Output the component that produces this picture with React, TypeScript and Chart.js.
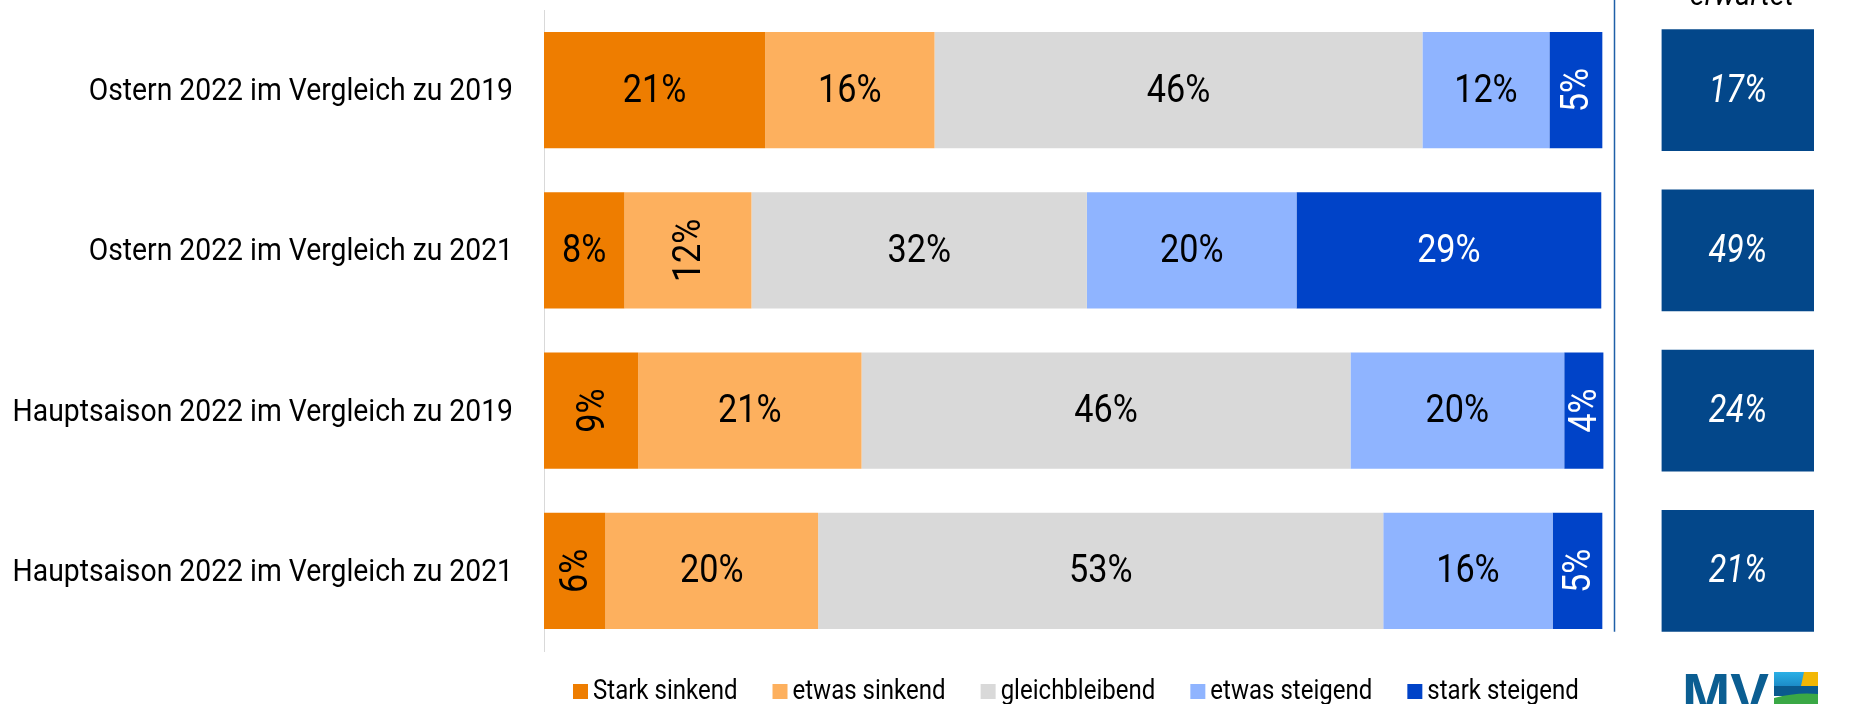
import React, { useEffect, useRef } from 'react';
import { Chart, registerables } from 'chart.js';

Chart.register(...registerables);

// ---- data ----
const categories = [
  'Ostern 2022 im Vergleich zu 2019',
  'Ostern 2022 im Vergleich zu 2021',
  'Hauptsaison 2022 im Vergleich zu 2019',
  'Hauptsaison 2022 im Vergleich zu 2021',
];
const seriesNames = ['Stark sinkend', 'etwas sinkend', 'gleichbleibend', 'etwas steigend', 'stark steigend'];
const starkSinkend = [20.9, 7.6, 8.9, 5.8];
const etwasSinkend = [16.0, 12.0, 21.1, 20.1];
const gleichbleibend = [46.1, 31.7, 46.2, 53.4];
const etwasSteigend = [12.0, 19.8, 20.2, 16.0];
const starkSteigend = [5.0, 28.8, 3.7, 4.7];
const erwartet = [17, 49, 24, 21];
const erwartetTitle = 'erwartet';

// ---- style ----
const seriesColors = ['#EE7D00', '#FDB05E', '#D9D9D9', '#8FB4FF', '#0043C8'];
const labelColors = ['#000000', '#000000', '#000000', '#000000', '#FFFFFF'];
// which value labels are written vertically (per series, per category)
const rotatedLabels = [
  [false, false, true, true],
  [false, true, false, false],
  [false, false, false, false],
  [false, false, false, false],
  [true, false, true, true],
];
const boxColor = '#03478A';
const dividerColor = '#1F5FA8';
const xMax = 120;
const boxRange: [number, number] = [105.6, 120];
const dividerValue = 101.1;
const baseFont = 'Roboto, "Liberation Sans", sans-serif';
const condense = 0.9; // emulate a condensed face by horizontal scaling

function condensedText(ctx: CanvasRenderingContext2D, txt: string, x: number, y: number, sx = condense) {
  ctx.save();
  ctx.translate(x, y);
  ctx.scale(sx, 1);
  ctx.fillText(txt, 0, 0);
  ctx.restore();
}

const labelsPlugin = {
  id: 'valueLabels',
  afterDatasetsDraw(chart: any) {
    const ctx = chart.ctx;
    ctx.save();
    ctx.textAlign = 'center';
    ctx.textBaseline = 'middle';
    for (let d = 0; d < 5; d++) {
      const meta = chart.getDatasetMeta(d);
      const vals = chart.data.datasets[d].data as number[];
      meta.data.forEach((el: any, i: number) => {
        const p = el.getProps(['x', 'y', 'base'], true);
        const cx = (p.x + p.base) / 2;
        const txt = Math.round(vals[i]) + '%';
        ctx.fillStyle = labelColors[d];
        ctx.font = `38px ${baseFont}`;
        if (rotatedLabels[d][i]) {
          ctx.save();
          ctx.translate(cx + 1, p.y);
          ctx.rotate(-Math.PI / 2);
          condensedText(ctx, txt, 0, 2);
          ctx.restore();
        } else {
          condensedText(ctx, txt, cx, p.y + 2);
        }
      });
    }
    // expected boxes
    const bmeta = chart.getDatasetMeta(5);
    ctx.fillStyle = '#FFFFFF';
    ctx.font = `italic 38px ${baseFont}`;
    bmeta.data.forEach((el: any, i: number) => {
      const p = el.getProps(['x', 'y', 'base'], true);
      condensedText(ctx, erwartet[i] + '%', (p.x + p.base) / 2, p.y + 2, 0.85);
    });
    ctx.restore();
  },
};

const decorPlugin = {
  id: 'decor',
  afterDraw(chart: any) {
    const ctx = chart.ctx;
    const xs = chart.scales.x;
    const ys = chart.scales.y;
    const bmeta = chart.getDatasetMeta(5);
    const last = bmeta.data[bmeta.data.length - 1].getProps(['x', 'y', 'base', 'height'], true);
    const first = bmeta.data[0].getProps(['x', 'base'], true);
    ctx.save();

    // category labels
    ctx.fillStyle = '#000';
    ctx.font = `32px ${baseFont}`;
    ctx.textAlign = 'right';
    ctx.textBaseline = 'middle';
    categories.forEach((c, i) => {
      condensedText(ctx, c, chart.chartArea.left - 31, ys.getPixelForValue(i) + 2, 0.885);
    });

    // divider line
    const dx = Math.round(xs.getPixelForValue(dividerValue)) + 0.5;
    ctx.strokeStyle = dividerColor;
    ctx.lineWidth = 1.5;
    ctx.beginPath();
    ctx.moveTo(dx, 0);
    ctx.lineTo(dx, last.y + last.height / 2);
    ctx.stroke();

    // column title (cut at top)
    ctx.fillStyle = '#000';
    ctx.font = `italic 32px ${baseFont}`;
    ctx.textAlign = 'center';
    ctx.textBaseline = 'alphabetic';
    condensedText(ctx, erwartetTitle, (first.x + first.base) / 2 + 4, 5, 0.9);

    // legend
    ctx.font = `27px ${baseFont}`;
    ctx.textAlign = 'left';
    ctx.textBaseline = 'middle';
    const lsx = 0.89;
    let x = chart.chartArea.left + 29;
    const yc = 691.5;
    for (let i = 0; i < 5; i++) {
      ctx.fillStyle = seriesColors[i];
      ctx.fillRect(x, yc - 7.5, 15, 15);
      ctx.fillStyle = '#000';
      condensedText(ctx, seriesNames[i], x + 20, yc + 1, lsx);
      x += 20 + ctx.measureText(seriesNames[i]).width * lsx + 35;
    }

    // logo (partially cut)
    ctx.fillStyle = '#0B5E92';
    ctx.font = 'bold 58px "Liberation Sans", Arial, sans-serif';
    ctx.textAlign = 'left';
    ctx.textBaseline = 'alphabetic';
    ctx.fillText('MV', 1682, 714);
    const lx = 1774, ly = 672, lw = 44;
    const g = ctx.createLinearGradient(0, ly, 0, ly + 14);
    g.addColorStop(0, '#2AB0E6');
    g.addColorStop(1, '#1C8CC8');
    ctx.fillStyle = g;
    ctx.fillRect(lx, ly, lw, 14);
    ctx.fillStyle = '#F2B705';
    ctx.beginPath();
    ctx.moveTo(lx + 30, ly);
    ctx.lineTo(lx + lw, ly);
    ctx.lineTo(lx + lw, ly + 14);
    ctx.lineTo(lx + 27, ly + 14);
    ctx.closePath();
    ctx.fill();
    ctx.fillStyle = '#0A5A8E';
    ctx.fillRect(lx, ly + 14, lw, 10);
    ctx.fillStyle = '#3AA845';
    ctx.beginPath();
    ctx.moveTo(lx, ly + 26);
    ctx.quadraticCurveTo(lx + 22, ly + 20, lx + lw, ly + 22);
    ctx.lineTo(lx + lw, 704);
    ctx.lineTo(lx, 704);
    ctx.closePath();
    ctx.fill();
    ctx.restore();
  },
};

export default function App() {
  const ref = useRef<HTMLCanvasElement>(null);
  useEffect(() => {
    if (!ref.current) return;
    const seriesData = [starkSinkend, etwasSinkend, gleichbleibend, etwasSteigend, starkSteigend];
    const datasets: any[] = seriesData.map((d, i) => ({
      label: seriesNames[i],
      data: d,
      backgroundColor: seriesColors[i],
      borderWidth: 0,
      barPercentage: 0.724,
      categoryPercentage: 1,
      xAxisID: 'x',
    }));
    datasets.push({
      label: erwartetTitle,
      data: erwartet.map(() => boxRange),
      backgroundColor: boxColor,
      borderWidth: 0,
      barPercentage: 0.76,
      categoryPercentage: 1,
      xAxisID: 'x2',
    });
    const chart = new Chart(ref.current, {
      type: 'bar',
      data: { labels: categories, datasets },
      options: {
        indexAxis: 'y',
        responsive: false,
        maintainAspectRatio: false,
        animation: false,
        layout: { padding: { top: 10, bottom: 53, right: 44, left: 0 } },
        scales: {
          x: { stacked: true, min: 0, max: xMax, display: false },
          x2: { stacked: false, min: 0, max: xMax, display: false },
          y: {
            stacked: true,
            grid: { display: false, drawTicks: false },
            border: { display: true, color: '#D9D9D9', width: 1 },
            ticks: { display: false },
            afterFit: (s: any) => {
              s.width = 544;
            },
          },
        },
        plugins: { legend: { display: false }, tooltip: { enabled: false } },
      } as any,
      plugins: [labelsPlugin, decorPlugin],
    });
    return () => chart.destroy();
  }, []);
  return (
    <div style={{ position: 'absolute', left: 0, top: 0, width: 1858, height: 704, background: '#fff' }}>
      <canvas ref={ref} width={1858} height={704} style={{ display: 'block' }} />
    </div>
  );
}
